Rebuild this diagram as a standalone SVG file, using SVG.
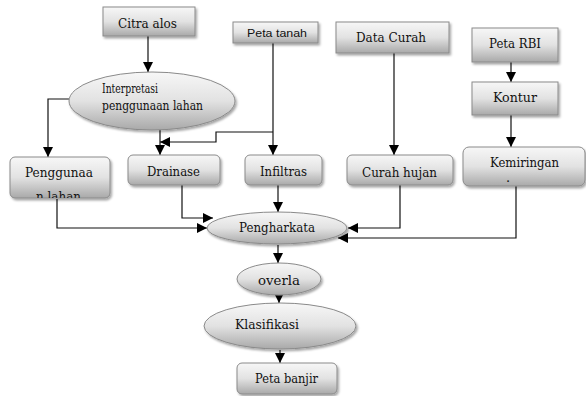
<svg xmlns="http://www.w3.org/2000/svg" width="586" height="396" viewBox="0 0 586 396">
<defs>
<linearGradient id="g" x1="0" y1="0" x2="0" y2="1">
<stop offset="0" stop-color="#f7f7f7"/>
<stop offset="0.5" stop-color="#e2e2e2"/>
<stop offset="1" stop-color="#a9a9a9"/>
</linearGradient>
<filter id="sh" x="-20%" y="-20%" width="140%" height="160%">
<feDropShadow dx="1.5" dy="2" stdDeviation="1.2" flood-color="#000" flood-opacity="0.35"/>
</filter>
<marker id="ah" markerUnits="userSpaceOnUse" markerWidth="10" markerHeight="10" viewBox="0 0 10 10" refX="10" refY="5" orient="auto">
<path d="M0,0 L10,5 L0,10 z" fill="#000"/>
</marker>
<clipPath id="cpPen"><rect x="10" y="157" width="100" height="41" rx="5"/></clipPath>
<clipPath id="cpOv"><ellipse cx="279" cy="279" rx="42" ry="16"/></clipPath>
</defs>
<style>
.n{fill:url(#g);stroke:#8a8a8a;stroke-width:1;filter:url(#sh)}
text{font-family:"DejaVu Serif","Liberation Serif",serif;font-size:13px;fill:#111}
.s{font-family:"Liberation Sans",Arial,sans-serif;font-size:11px}
.c{fill:none;stroke:#111;stroke-width:1.2;marker-end:url(#ah)}
</style>
<g id="connectors">
<path class="c" d="M148,36 V72"/>
<path class="c" d="M69,99 H48 V157"/>
<path class="c" d="M160,130 V155"/>
<path class="c" d="M273,43 V155"/>
<path class="c" d="M273,132 H216 V142 H160"/>
<path class="c" d="M394,53 V155"/>
<path class="c" d="M511,62 V82"/>
<path class="c" d="M511,115 V147"/>
<path class="c" d="M57,199 V228 H207"/>
<path class="c" d="M182,185 V218 H213"/>
<path class="c" d="M278,185 V212"/>
<path class="c" d="M400,185 V228 H348"/>
<path class="c" d="M516,186 V238 H338"/>
<path class="c" d="M278,245 V263"/>
<path class="c" d="M279,295 V303"/>
<path class="c" d="M280,350 V363"/>
</g>
<g id="citra"><rect class="n" x="103" y="7" width="92" height="29"/><text x="118" y="28" textLength="59" lengthAdjust="spacingAndGlyphs">Citra alos</text></g>
<g id="petatanah"><rect class="n" x="233" y="22" width="85" height="21"/><text class="s" x="247" y="37" textLength="60" lengthAdjust="spacingAndGlyphs">Peta tanah</text></g>
<g id="datacurah"><rect class="n" x="336" y="22" width="113" height="31"/><text x="356" y="42" textLength="70" lengthAdjust="spacingAndGlyphs">Data Curah</text></g>
<g id="petarbi"><rect class="n" x="472" y="28" width="86" height="34"/><text x="489" y="48" textLength="52" lengthAdjust="spacingAndGlyphs">Peta RBI</text></g>
<g id="kontur"><rect class="n" x="472" y="82" width="86" height="33"/><text x="493" y="102" textLength="44" lengthAdjust="spacingAndGlyphs">Kontur</text></g>
<g id="interpretasi"><ellipse class="n" cx="152" cy="101" rx="83" ry="29"/><text x="102" y="93" font-size="11" textLength="56" lengthAdjust="spacingAndGlyphs">Interpretasi</text><text x="102" y="110" font-size="11" textLength="101" lengthAdjust="spacingAndGlyphs">penggunaan  lahan</text></g>
<g id="penggunaan"><rect class="n" x="10" y="157" width="100" height="41" rx="5"/><text x="25" y="177" textLength="68" lengthAdjust="spacingAndGlyphs">Penggunaa</text><text clip-path="url(#cpPen)" x="36" y="201" textLength="45" lengthAdjust="spacingAndGlyphs">n lahan</text></g>
<g id="drainase"><rect class="n" x="128" y="155" width="92" height="30" rx="5"/><text x="147" y="176" textLength="53" lengthAdjust="spacingAndGlyphs">Drainase</text></g>
<g id="infiltras"><rect class="n" x="245" y="155" width="77" height="30" rx="5"/><text x="260" y="176" textLength="47" lengthAdjust="spacingAndGlyphs">Infiltras</text></g>
<g id="curahhujan"><rect class="n" x="347" y="155" width="106" height="30" rx="5"/><text x="362" y="177" textLength="75" lengthAdjust="spacingAndGlyphs">Curah hujan</text></g>
<g id="kemiringan"><rect class="n" x="463" y="147" width="122" height="39" rx="6"/><text x="490" y="167" textLength="69" lengthAdjust="spacingAndGlyphs">Kemiringan</text><text x="506" y="182" font-size="6">.</text></g>
<g id="pengharkata"><ellipse class="n" cx="277" cy="228" rx="70" ry="16"/><text x="239" y="232" textLength="76" lengthAdjust="spacingAndGlyphs">Pengharkata</text></g>
<g id="overla"><ellipse class="n" cx="279" cy="279" rx="42" ry="16"/><text clip-path="url(#cpOv)" x="258" y="285" textLength="42" lengthAdjust="spacingAndGlyphs">overla</text></g>
<g id="klasifikasi"><ellipse class="n" cx="280" cy="326" rx="76" ry="23"/><text x="235" y="329" textLength="64" lengthAdjust="spacingAndGlyphs">Klasifikasi</text></g>
<g id="petabanjir"><rect class="n" x="237" y="363" width="100" height="31" rx="5"/><text x="255" y="383" textLength="63" lengthAdjust="spacingAndGlyphs">Peta banjir</text></g>
</svg>
